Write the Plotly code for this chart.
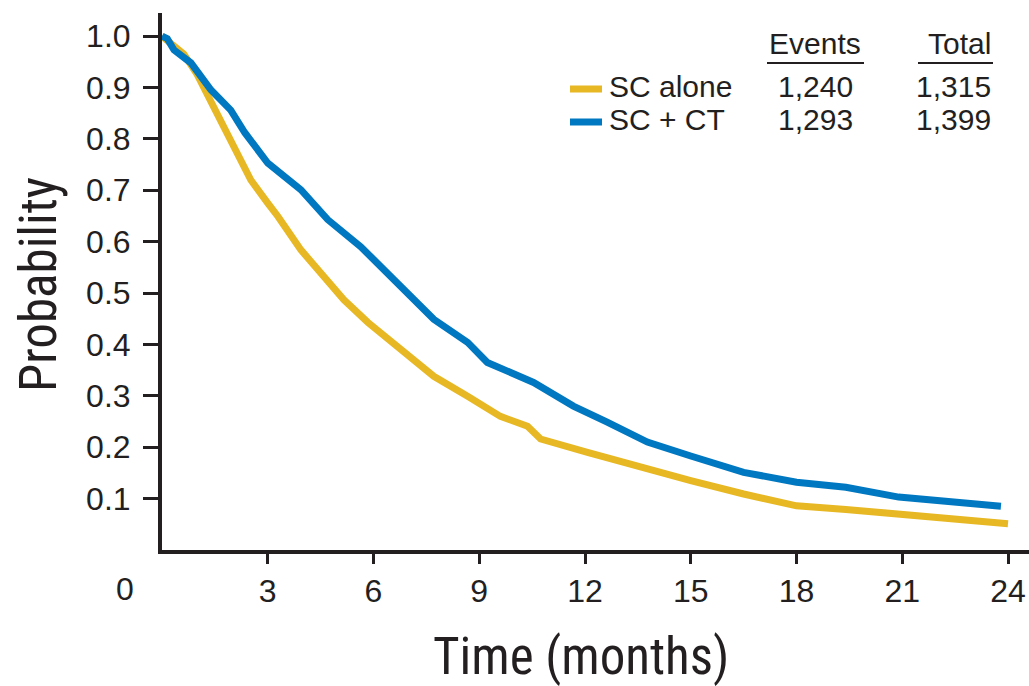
import plotly.graph_objects as go

# Kaplan-Meier survival estimates (time in months, survival probability)
sc_alone_t = [0, 0.3, 0.62, 1.0, 1.3, 1.6, 1.95, 2.52, 3.0, 3.29, 3.94, 4.42, 5.16, 5.84,
              6.69, 7.71, 8.67, 9.6, 10.37, 10.74, 12.07, 13.0, 13.77, 15.0, 16.5, 18.0,
              19.4, 20.9, 22.3, 24.0]
sc_alone_p = [1.0, 0.985, 0.965, 0.925, 0.885, 0.845, 0.797, 0.72, 0.675, 0.649, 0.584, 0.546,
              0.487, 0.443, 0.396, 0.338, 0.299, 0.26, 0.241, 0.216, 0.19, 0.172, 0.157,
              0.135, 0.109, 0.086, 0.079, 0.07, 0.061, 0.051]

sc_ct_t = [0, 0.15, 0.34, 0.82, 1.39, 1.95, 2.35, 3.0, 3.94, 4.7, 5.64, 6.57, 7.34, 7.71,
           8.67, 9.23, 10.54, 11.67, 12.63, 13.77, 15.0, 16.5, 18.0, 19.4, 20.9, 22.3, 23.8]
sc_ct_p = [1.0, 0.995, 0.973, 0.948, 0.895, 0.856, 0.812, 0.753, 0.701, 0.643, 0.59, 0.526,
           0.474, 0.449, 0.404, 0.365, 0.326, 0.28, 0.249, 0.21, 0.183, 0.151, 0.132, 0.122,
           0.103, 0.093, 0.085]

x_ticks = [3, 6, 9, 12, 15, 18, 21, 24]
y_ticks = [0.1, 0.2, 0.3, 0.4, 0.5, 0.6, 0.7, 0.8, 0.9, 1.0]

group_names = ["SC alone", "SC + CT"]
group_events = ["1,240", "1,293"]
group_totals = ["1,315", "1,399"]

YELLOW = "#E7B823"
BLUE = "#0078C1"
INK = "#231F20"

W, H = 1029, 686
ML, MR, MT, MB = 162, 0, 13, 136
PW, PH = W - ML - MR, H - MT - MB


def px(x):
    return (x - ML) / PW


def py(y):
    return (H - MB - y) / PH


fig = go.Figure()
fig.add_trace(go.Scatter(x=sc_alone_t, y=sc_alone_p, mode="lines",
                         line=dict(color=YELLOW, width=7), name=group_names[0]))
fig.add_trace(go.Scatter(x=sc_ct_t, y=sc_ct_p, mode="lines",
                         line=dict(color=BLUE, width=7), name=group_names[1]))

tick_font = dict(family="Liberation Sans, Arial, sans-serif", size=32, color=INK)
title_font = dict(family="Roboto Condensed, Liberation Sans, sans-serif", size=51, color=INK)
legend_font = dict(family="Liberation Sans, Arial, sans-serif", size=30, color=INK)

annotations = []
shapes = []

# Axis titles
annotations.append(dict(text="Time (months)", x=px(581), y=py(656), xref="paper", yref="paper",
                        showarrow=False, font=title_font, xanchor="center", yanchor="middle"))
annotations.append(dict(text="Probability", x=px(38), y=py(285), xref="paper", yref="paper",
                        showarrow=False, font=title_font, textangle=-90,
                        xanchor="center", yanchor="middle"))
# Origin label
annotations.append(dict(text="0", x=px(125), y=py(589), xref="paper", yref="paper",
                        showarrow=False, font=tick_font, xanchor="center", yanchor="middle"))

# Legend table headers
annotations.append(dict(text="Events", x=px(815), y=py(43), xref="paper", yref="paper",
                        showarrow=False, font=legend_font, xanchor="center", yanchor="middle"))
annotations.append(dict(text="Total", x=px(993), y=py(43), xref="paper", yref="paper",
                        showarrow=False, font=legend_font, xanchor="right", yanchor="middle"))
shapes.append(dict(type="line", xref="paper", yref="paper", x0=px(767), x1=px(864),
                   y0=py(63), y1=py(63), line=dict(color=INK, width=2)))
shapes.append(dict(type="line", xref="paper", yref="paper", x0=px(918), x1=px(993),
                   y0=py(63), y1=py(63), line=dict(color=INK, width=2)))

# Legend rows
row_y = [86, 119]
colors = [YELLOW, BLUE]
for name, ev, tot, ry, col in zip(group_names, group_events, group_totals, row_y, colors):
    shapes.append(dict(type="line", xref="paper", yref="paper", x0=px(570), x1=px(602),
                       y0=py(ry + 3), y1=py(ry + 3), line=dict(color=col, width=7)))
    annotations.append(dict(text=name, x=px(607), y=py(ry), xref="paper", yref="paper",
                            showarrow=False, font=legend_font, xanchor="left", yanchor="middle"))
    annotations.append(dict(text=ev, x=px(815), y=py(ry), xref="paper", yref="paper",
                            showarrow=False, font=legend_font, xanchor="center", yanchor="middle"))
    annotations.append(dict(text=tot, x=px(993), y=py(ry), xref="paper", yref="paper",
                            showarrow=False, font=legend_font, xanchor="right", yanchor="middle"))

fig.update_layout(
    width=W, height=H,
    margin=dict(l=ML, r=MR, t=MT, b=MB, pad=0),
    paper_bgcolor="white", plot_bgcolor="white",
    showlegend=False,
    annotations=annotations,
    shapes=shapes,
    xaxis=dict(range=[0, PW / 35.25], tickvals=x_ticks, ticktext=[str(v) for v in x_ticks],
               showgrid=False, zeroline=False, showline=True, linecolor=INK, linewidth=4,
               ticks="outside", ticklen=10, tickwidth=3, tickcolor=INK,
               tickfont=tick_font, ticklabelstandoff=0, fixedrange=True),
    yaxis=dict(range=[0, 1.045], tickvals=y_ticks, ticktext=[f"{v:.1f}" for v in y_ticks],
               showgrid=False, zeroline=False, showline=True, linecolor=INK, linewidth=4,
               ticks="outside", ticklen=15, tickwidth=3, tickcolor=INK,
               tickfont=tick_font, ticklabelstandoff=6, fixedrange=True),
)

fig.write_html("out.html")
